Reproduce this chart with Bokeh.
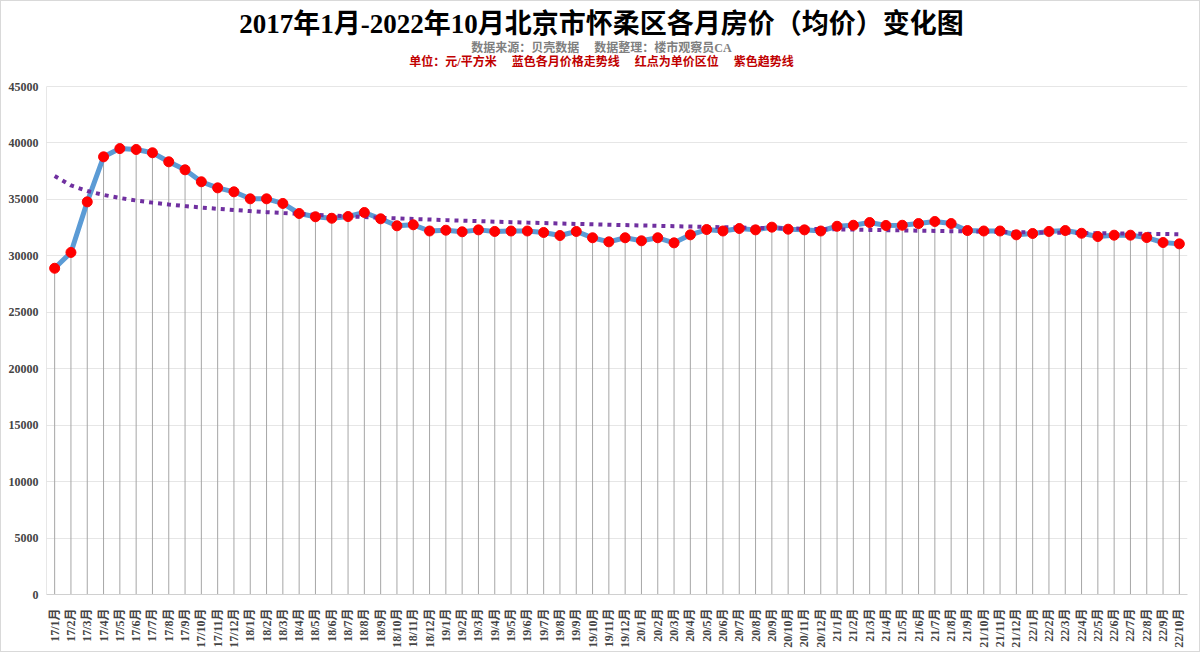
import numpy as np
from bokeh.plotting import figure
from bokeh.models import FixedTicker, Label, Range1d, ColumnDataSource
from bokeh.embed import file_html
from bokeh.resources import INLINE

# ---- data ----
years = [17, 18, 19, 20, 21, 22]
month_labels = [f"{y}/{m}月" for y in years for m in range(1, 13)][:70]
prices = [
    28900, 30300, 34780, 38770, 39500, 39420, 39130, 38330, 37620, 36560, 36020, 35670,  # 2017
    35050, 35050, 34640, 33750, 33460, 33330, 33480, 33840, 33280, 32660, 32750, 32200,  # 2018
    32270, 32130, 32300, 32160, 32200, 32200, 32070, 31800, 32160, 31600, 31240, 31600,  # 2019
    31330, 31600, 31150, 31860, 32330, 32200, 32420, 32300, 32540, 32360, 32300, 32200,  # 2020
    32620, 32710, 32950, 32690, 32710, 32860, 33040, 32860, 32240, 32200, 32200, 31860,  # 2021
    31980, 32160, 32240, 32000, 31710, 31830, 31830, 31620, 31180, 31060,                # 2022
]
y_ticks = [0, 5000, 10000, 15000, 20000, 25000, 30000, 35000, 40000, 45000]

GAP = "\u00a0" * 5
title_text = "2017年1月-2022年10月北京市怀柔区各月房价（均价）变化图"
source_text = "数据来源：贝壳数据" + GAP + "数据整理：楼市观察员CA"
note_text = "单位：元/平方米" + GAP + "蓝色各月价格走势线" + GAP + "红点为单价区位" + GAP + "紫色趋势线"

# ---- derived ----
xs = np.arange(1, len(prices) + 1)
b, a = np.polyfit(np.log(xs), np.array(prices, dtype=float), 1)
trend = a + b * np.log(xs)
src = ColumnDataSource(dict(x=xs, y=prices, zero=[0] * len(prices)))

SERIF = "'Liberation Serif', 'Noto Sans CJK SC'"

H, BOTTOM = 652, 59
FRAME_H = H - BOTTOM            # frame spans from canvas top to the x axis
PLOT_TOP = 85                   # pixel where the top tick (45000) sits
y_max = max(y_ticks)
y_end = y_max * FRAME_H / (FRAME_H - PLOT_TOP)

p = figure(width=1200, height=H, output_backend="svg", toolbar_location=None,
           x_range=Range1d(0.5, len(prices) + 0.5), y_range=Range1d(0, y_end),
           min_border_left=45, min_border_right=14, min_border_bottom=BOTTOM, min_border_top=0)
p.outline_line_color = None
p.background_fill_color = "white"
p.border_fill_color = "white"
p.styles = {"border": "1px solid #d9d9d9"}

# titles as screen-positioned labels (relative to the frame's bottom-left)
cx = 600 - 45
for txt, yy, size, color in [(title_text, 22, "27px", "black"),
                             (source_text, 46, "12px", "#7f7f7f"),
                             (note_text, 60, "12px", "#c00000")]:
    p.add_layout(Label(x=cx, y=FRAME_H - yy, x_units="screen", y_units="screen",
                       text=txt, text_align="center", text_baseline="middle",
                       text_font=SERIF, text_font_size=size, text_font_style="bold",
                       text_color=color))

# grid
p.xgrid.grid_line_color = None
p.ygrid.grid_line_color = "#e6e6e6"
p.ygrid.ticker = FixedTicker(ticks=y_ticks)

# axes
p.yaxis.ticker = FixedTicker(ticks=y_ticks)
p.yaxis.major_label_text_font = SERIF
p.yaxis.major_label_text_font_style = "bold"
p.yaxis.major_label_text_font_size = "12px"
p.yaxis.axis_line_color = None
p.yaxis.major_tick_line_color = None
p.yaxis.minor_tick_line_color = None
p.yaxis.major_tick_out = 0
p.yaxis.major_tick_in = 0
p.yaxis.minor_tick_out = 0
p.yaxis.major_label_standoff = 8
# visible vertical axis line only over the value range
p.segment(x0=[0.5], y0=[0], x1=[0.5], y1=[y_max], line_color="#d0d0d0", line_width=1)

p.xaxis.ticker = FixedTicker(ticks=list(xs))
p.xaxis.major_label_overrides = {int(i): lab for i, lab in zip(xs, month_labels)}
p.xaxis.major_label_orientation = np.pi / 2
p.xaxis.major_label_text_font = SERIF
p.xaxis.major_label_text_font_style = "bold"
p.xaxis.major_label_text_font_size = "12px"
p.xaxis.axis_line_color = "#d0d0d0"
p.xaxis.major_tick_line_color = None
p.xaxis.minor_tick_line_color = None
p.xaxis.major_tick_out = 0
p.xaxis.major_tick_in = 0
p.xaxis.minor_tick_out = 0
p.xaxis.major_label_standoff = 14

# drop lines
p.segment(x0="x", y0="zero", x1="x", y1="y", source=src, line_color="#a6a6a6", line_width=1)
# price line
p.line(x="x", y="y", source=src, line_color="#5b9bd5", line_width=5, line_join="round")
# trend line
p.line(xs, trend, line_color="#7030a0", line_width=4, line_dash="4 5")
# markers
p.scatter(x="x", y="y", source=src, size=10, fill_color="#ff0000", line_color="#ff0000")

open("out.html", "w").write(file_html(p, INLINE))
